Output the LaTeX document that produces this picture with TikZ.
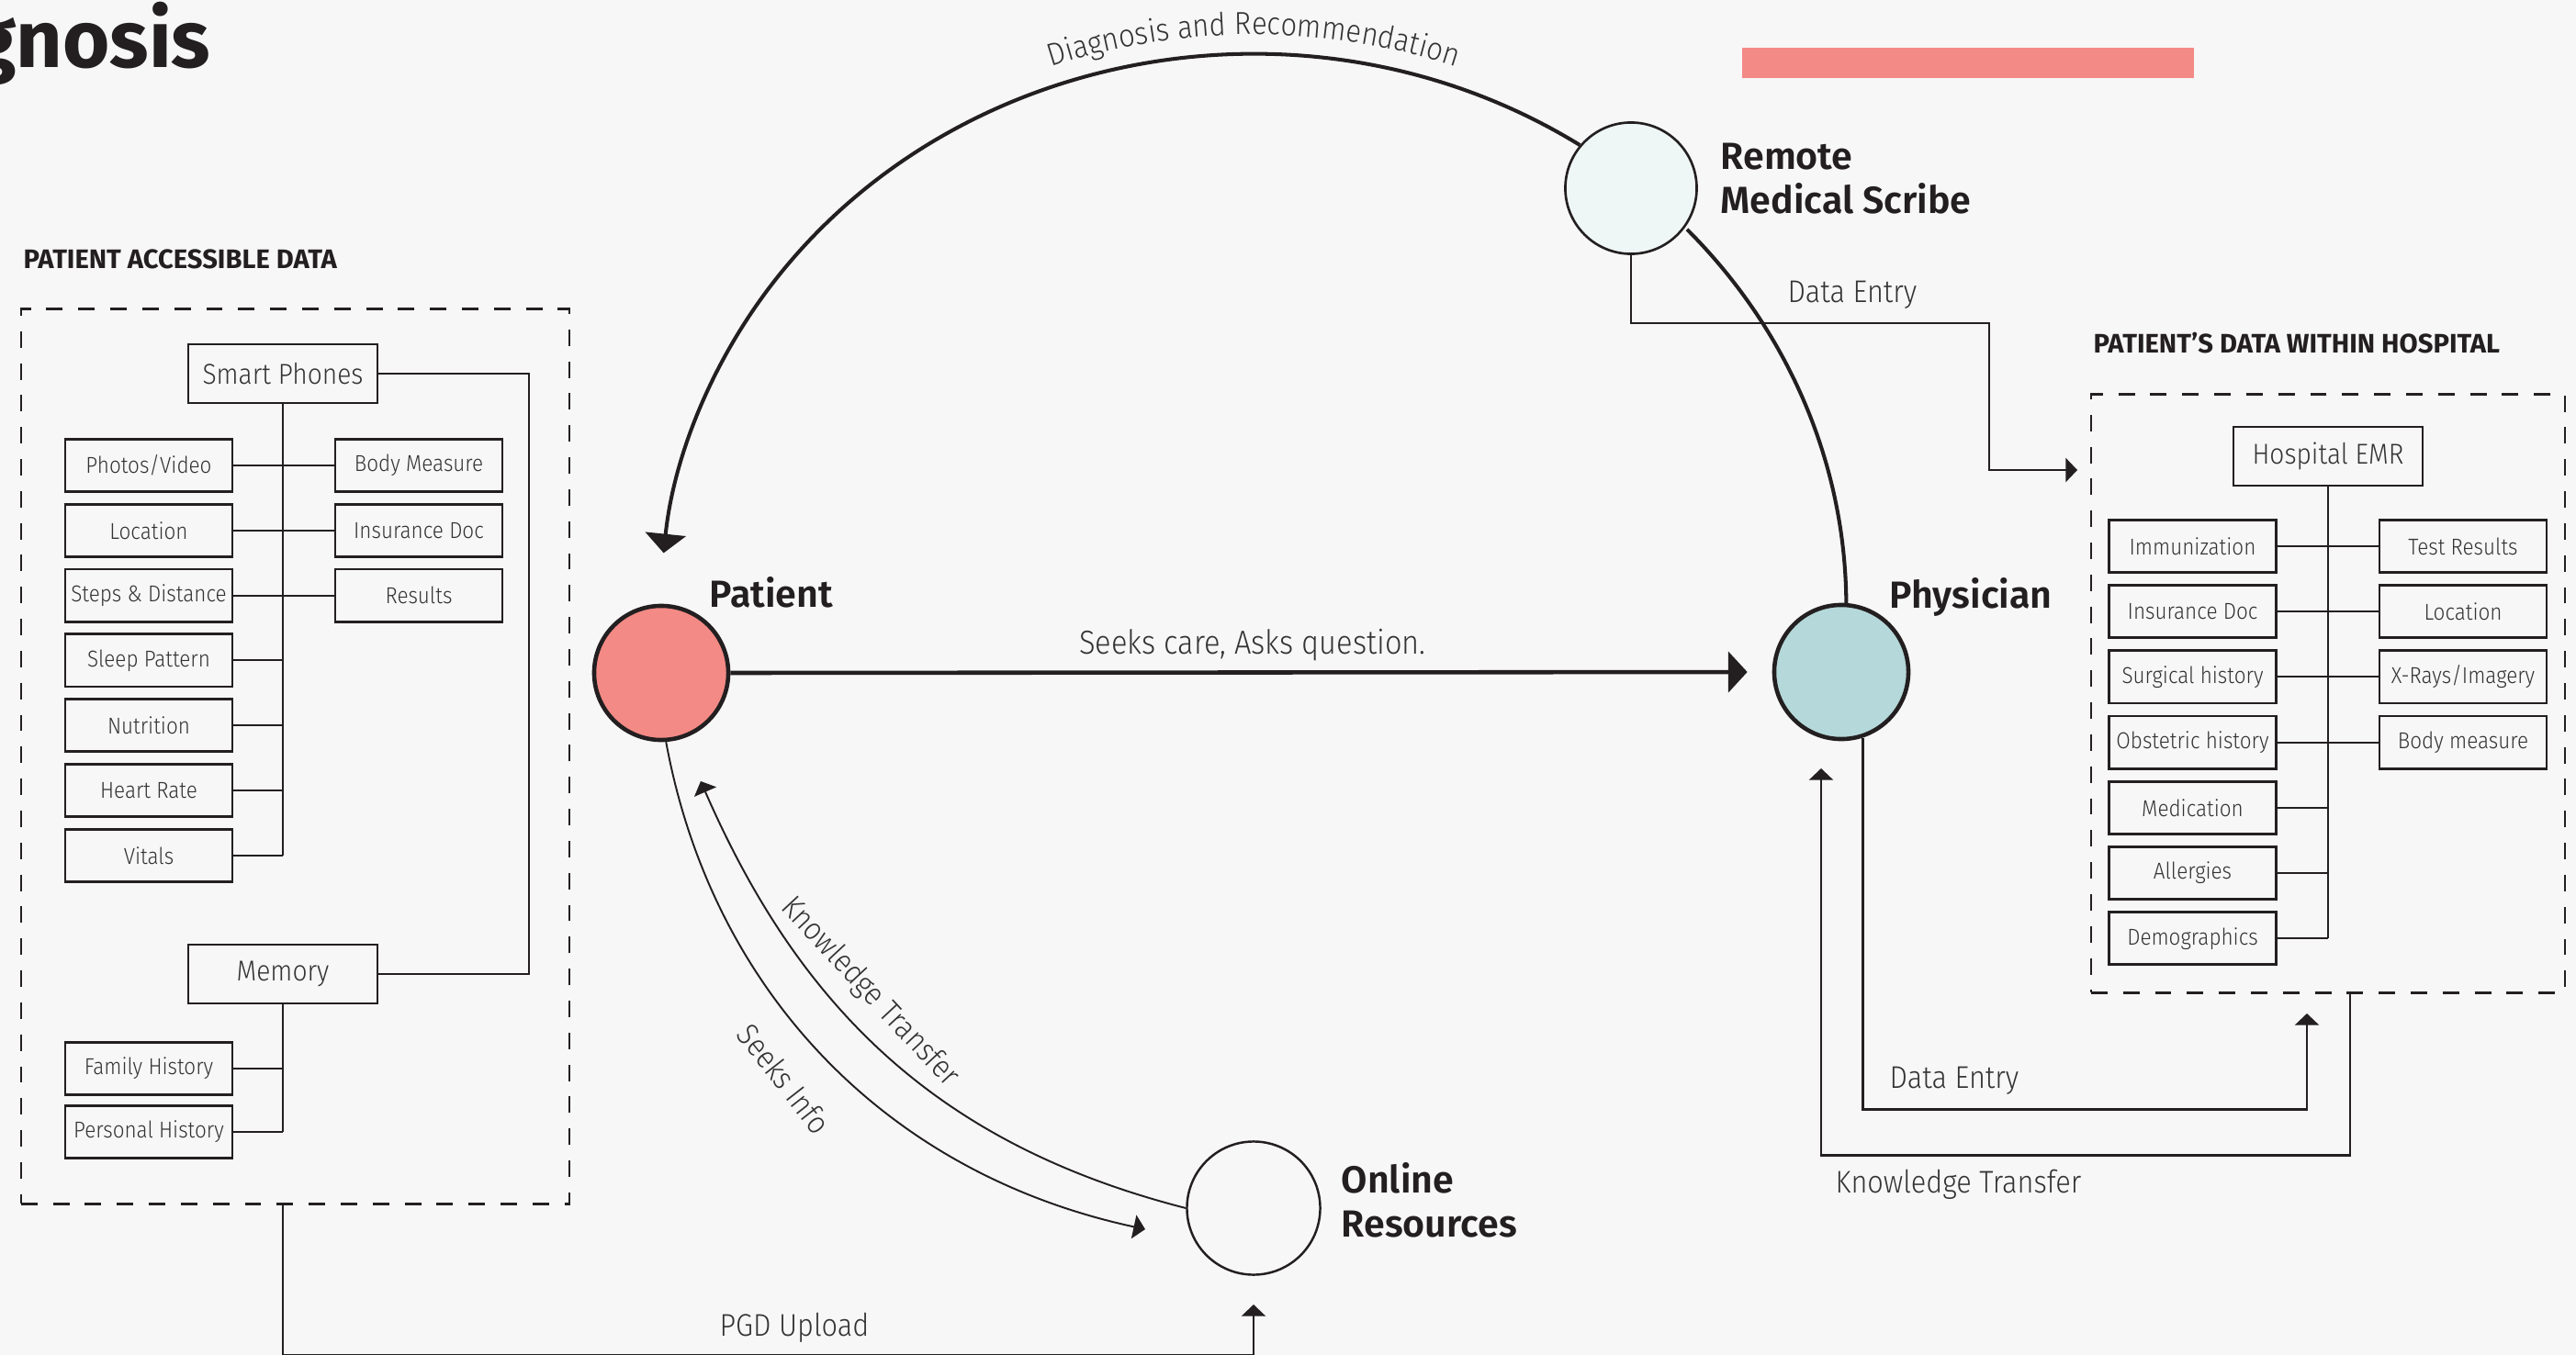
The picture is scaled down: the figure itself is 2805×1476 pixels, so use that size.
\documentclass[tikz,border=0pt]{standalone}
\usepackage{fontspec}
\setmainfont{Fira Sans}[UprightFont=* Light, BoldFont=* SemiBold]
\newfontfamily\cond{Fira Sans}[UprightFont=* Light, BoldFont=* SemiBold, FakeStretch=0.9]
\newfontfamily\heavy{Fira Sans}[UprightFont=* Bold]
\usetikzlibrary{arrows.meta, decorations.text, calc}

\definecolor{bg}{HTML}{F7F7F7}
\definecolor{ink}{HTML}{231F20}
\definecolor{softink}{HTML}{333333}
\definecolor{salmon}{HTML}{F48A85}
\definecolor{teal}{HTML}{B5D8DA}
\definecolor{mint}{HTML}{EFF7F6}

\begin{document}
\begin{tikzpicture}[x=0.01cm, y=-0.01cm,
  boxline/.style={draw=ink, line width=0.8pt},
  leaf/.style={boxline, minimum width=1.82cm, minimum height=0.57cm, inner sep=0pt,
    font=\cond\fontsize{7.1}{9}\selectfont, text=softink},
  hub/.style={boxline, minimum width=2.06cm, minimum height=0.64cm, inner sep=0pt,
    font=\cond\fontsize{8.9}{11}\selectfont, text=softink},
  wire/.style={draw=ink, line width=0.6pt},
  frame/.style={draw=ink, line width=0.75pt, dash pattern=on 5.1pt off 4.8pt, inner sep=0pt},
  flowlabel/.style={font=\cond\fontsize{9.7}{12}\selectfont, text=softink, inner sep=0pt},
  actor/.style={font=\bfseries\fontsize{11.7}{13.6}\selectfont, text=ink, inner sep=0pt, align=left},
  heading/.style={font=\heavy\fontsize{8.3}{10}\selectfont, text=ink, inner sep=0pt},
  smalltip/.style={-{Triangle[length=3.6pt,width=7.4pt]}},
  bigtip/.style={-{Triangle[length=5.9pt,width=12.5pt]}},
  elbow/.style={draw=ink, line width=0.7pt},
  curve/.style={draw=ink, line width=0.55pt},
  bigline/.style={draw=ink, line width=1.15pt},
  party/.style={circle, draw=ink, inner sep=0pt}
]
% canvas
\fill[bg] (0,0) rectangle (2805,1476);
\useasboundingbox (0,0) rectangle (2805,1476);

% title and accent bar
\node[anchor=base east, inner sep=0pt, text=ink, font=\heavy\fontsize{25}{30}\selectfont] (title) at (230,74) {Diagnosis};
\fill[salmon] (1897,52) rectangle (2389,85);

% ---------- patient accessible data ----------
\node[heading, anchor=base west] (padhead) at (25,292) {PATIENT ACCESSIBLE DATA};
\node[frame, minimum width=5.97cm, minimum height=9.74cm] (pad) at (321.5,824) {};

\node[hub] (sp) at (308,407) {Smart Phones};
\node[leaf] (pv) at (162,507) {Photos/Video};
\node[leaf] (loc) at (162,577.8) {Location};
\node[leaf] (steps) at (162,648.6) {Steps \& Distance};
\node[leaf] (sleep) at (162,719.4) {Sleep Pattern};
\node[leaf] (nut) at (162,790.2) {Nutrition};
\node[leaf] (hr) at (162,861) {Heart Rate};
\node[leaf] (vit) at (162,931.8) {Vitals};
\node[leaf] (bm) at (456,507) {Body Measure};
\node[leaf] (ins) at (456,577.8) {Insurance Doc};
\node[leaf] (res) at (456,648.6) {Results};
\node[hub] (mem) at (308,1061) {Memory};
\node[leaf] (fam) at (162,1164) {Family History};
\node[leaf] (pers) at (162,1233) {Personal History};

\draw[wire] (sp.south) -- (sp.south |- vit.east);
\draw[wire] (pv.east) -- (bm.west);
\draw[wire] (loc.east) -- (ins.west);
\draw[wire] (steps.east) -- (res.west);
\foreach \n in {sleep,nut,hr,vit} \draw[wire] (\n.east) -- (\n.east -| sp.south);
\coordinate (spbus) at (576,700);
\draw[wire] (sp.east) -| (spbus) |- (mem.east);
\draw[wire] (mem.south) -- (mem.south |- pers.east);
\draw[wire] (fam.east) -- (fam.east -| mem.south);
\draw[wire] (pers.east) -- (pers.east -| mem.south);

% ---------- hospital data ----------
\node[heading, anchor=base west] (hosphead) at (2279,384) {PATIENT’S DATA WITHIN HOSPITAL};
\node[frame, minimum width=5.16cm, minimum height=6.51cm] (hosp) at (2535,755.5) {};

\node[hub] (emr) at (2535,497) {Hospital EMR};
\node[leaf] (imm) at (2387.5,595) {Immunization};
\node[leaf] (hins) at (2387.5,666.2) {Insurance Doc};
\node[leaf] (surg) at (2387.5,737.4) {Surgical history};
\node[leaf] (obst) at (2387.5,808.6) {Obstetric history};
\node[leaf] (med) at (2387.5,879.8) {Medication};
\node[leaf] (all) at (2387.5,951) {Allergies};
\node[leaf] (demo) at (2387.5,1022.2) {Demographics};
\node[leaf] (test) at (2682,595) {Test Results};
\node[leaf] (hloc) at (2682,666.2) {Location};
\node[leaf] (xray) at (2682,737.4) {X-Rays/Imagery};
\node[leaf] (hbm) at (2682,808.6) {Body measure};

\draw[wire] (emr.south) -- (emr.south |- demo.east);
\draw[wire] (imm.east) -- (test.west);
\draw[wire] (hins.east) -- (hloc.west);
\draw[wire] (surg.east) -- (xray.west);
\draw[wire] (obst.east) -- (hbm.west);
\foreach \n in {med,all,demo} \draw[wire] (\n.east) -- (\n.east -| emr.south);

% ---------- actors ----------
\node[party, line width=1.3pt, fill=salmon, minimum size=1.46cm] (patient) at (720,733) {};
\node[party, line width=1.3pt, fill=teal, minimum size=1.46cm] (phys) at (2005,732) {};
\node[party, line width=0.75pt, fill=mint, minimum size=1.43cm] (scribe) at (1776,205) {};
\node[party, line width=0.7pt, fill=bg, minimum size=1.45cm] (online) at (1365,1316) {};

\node[actor, anchor=base west] (patientlbl) at (772,661) {Patient};
\node[actor, anchor=base west] (physlbl) at (2057,662) {Physician};
\node[actor, anchor=north west] (scribelbl) at (1873,155) {Remote\\Medical Scribe};
\node[actor, anchor=north west] (onlinelbl) at (1460,1266) {Online\\Resources};

% ---------- flows ----------
% patient to physician
\draw[ink, line width=1.3pt, bigtip, shorten >=0.27cm] (patient.east) -- (phys.west);
\node[flowlabel, font=\cond\fontsize{10.3}{12}\selectfont, anchor=base] (seekscare) at (1364,712) {Seeks care, Asks question.};

% the large loop through the remote scribe
\coordinate (loop) at (1365,660);
\draw[bigline, bigtip] ($(loop)+(56.6:6.45cm and 6.01cm)$)
  arc[start angle=56.6, end angle=174.5, x radius=6.45cm, y radius=6.01cm];
\draw[bigline] ($(loop)+(43:6.45cm and 6.01cm)$)
  arc[start angle=43, end angle=0, x radius=6.45cm, y radius=6.01cm];
\path[decorate, decoration={text along path, text align=center,
    text={|\cond\fontsize{9.8}{12}\selectfont\color{softink}|Diagnosis and Recommendation}}]
  ($(loop)+(125:6.66cm and 6.22cm)$)
  arc[start angle=125, end angle=55, x radius=6.66cm, y radius=6.22cm];

% scribe data entry into the EMR
\coordinate (scribebend) at (2166,352);
\coordinate (emrentry) at (2262,512);
\draw[elbow, smalltip] (scribe.south) |- (scribebend) |- (emrentry);
\node[flowlabel, anchor=base west] (scribeentry) at (1946,330) {Data Entry};

% physician data entry into the EMR
\coordinate (hospentry) at (2512,1104);
\draw[elbow, smalltip] (phys.-72) -- ++(0,405) -| (hospentry);
\node[flowlabel, anchor=base west] (physentry) at (2057,1185) {Data Entry};

% knowledge transfer back to the physician
\coordinate (physreturn) at (1983,837);
\draw[elbow, smalltip] ($(hosp.south)+(24,0)$) -- ++(0,176) -| (physreturn);
\node[flowlabel, anchor=base west] (hospkt) at (1998,1299) {Knowledge Transfer};

% patient and online resources
\coordinate (seekstip) at (1247,1339);
\draw[curve, smalltip] (patient.-86) .. controls (775,1079) and (964,1278) .. (seekstip);
\coordinate (learntip) at (763,851);
\draw[curve, smalltip] (online.west) .. controls (1022,1247) and (871,1099) .. (learntip);
\node[flowlabel, rotate=-47] (onlinekt) at (947,1081) {Knowledge Transfer};
\node[flowlabel, rotate=-52] (seeksinfo) at (854,1175) {Seeks Info};

% personal data upload
\coordinate (uploadtip) at (1365,1421);
\draw[elbow, line width=0.6pt, smalltip] (pad.south -| mem.south) -- ++(0,163) -| (uploadtip);
\node[flowlabel, anchor=base west] (pgd) at (783,1455) {PGD Upload};
\end{tikzpicture}
\end{document}
